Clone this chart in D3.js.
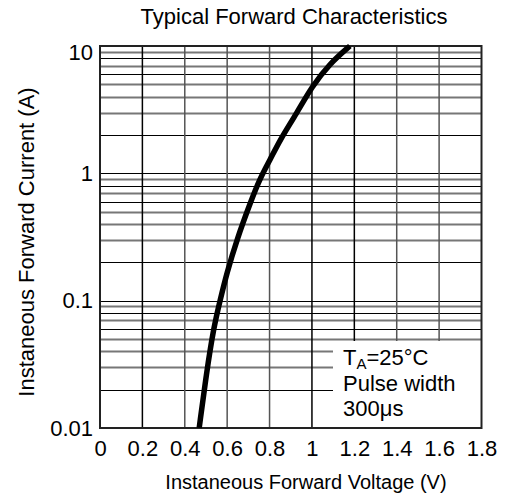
<!DOCTYPE html>
<html>
<head>
<meta charset="utf-8">
<script src="https://cdn.jsdelivr.net/npm/d3@7"></script>
<style>
  body { margin: 0; background: #fff; }
  text { font-family: "Liberation Sans", Arial, sans-serif; fill: #000; }
</style>
</head>
<body>
<div id="chart"></div>
<script>
// curve
const voltage = [0.468, 0.502, 0.537, 0.567, 0.598, 0.645, 0.708, 0.755, 0.802, 0.849, 0.928, 0.999, 1.085, 1.179];
const current = [0.01, 0.0268, 0.0624, 0.101, 0.164, 0.299, 0.581, 0.914, 1.27, 1.83, 2.96, 4.79, 7.31, 10];

const xTicks = [0, 0.2, 0.4, 0.6, 0.8, 1, 1.2, 1.4, 1.6, 1.8];
const yTicks = [0.01, 0.1, 1, 10];
const legendLines = ["Pulse width", "300μs"];

const width = 507, height = 500;
const plotL = 100, plotR = 481.5, plotT = 46, plotB = 428;

const svg = d3.select("#chart").append("svg")
    .attr("width", width)
    .attr("height", height);

const x = d3.scaleLinear().domain([0, 1.8]).range([plotL, plotR]);
const y = d3.scaleLog().domain([0.01, 10]).range([plotB, plotT]);

// minor log grid, some lines gray some black like the original
const minorColor = { 1: "#000", 2: "#000", 3: "#777", 4: "#777", 5: "#777", 6: "#000", 7: "#777", 8: "#000", 9: "#777" };
const minor = [];
yTicks.slice(0, -1).forEach(d => {
    for (let m = 2; m <= 9; m++) minor.push({ v: d * m, m: m });
});

const grid = svg.append("g");
grid.selectAll("line.h")
    .data(minor.concat(yTicks.slice(1, -1).map(v => ({ v: v, m: 1 }))))
    .enter().append("line")
    .attr("class", "h")
    .attr("x1", plotL).attr("x2", plotR)
    .attr("y1", d => Math.round(y(d.v)) + 0.5)
    .attr("y2", d => Math.round(y(d.v)) + 0.5)
    .style("stroke", d => minorColor[d.m])
    .style("stroke-width", d => minorColor[d.m] === "#000" ? 1.2 : 2);

grid.selectAll("line.v")
    .data(xTicks.slice(1, -1))
    .enter().append("line")
    .attr("class", "v")
    .attr("x1", d => x(d)).attr("x2", d => x(d))
    .attr("y1", plotT).attr("y2", plotB)
    .style("stroke", (d, i) => (i === 0 || i === 4 || i === 5) ? "#000" : "#555")
    .style("stroke-width", 1.5);

// legend box blanks out the grid
svg.append("rect")
    .attr("x", 333).attr("y", 341)
    .attr("width", plotR - 333).attr("height", plotB - 341)
    .style("fill", "#fff");

// frame
svg.append("rect")
    .attr("x", plotL).attr("y", plotT)
    .attr("width", plotR - plotL).attr("height", plotB - plotT)
    .style("fill", "none")
    .style("stroke", "#222")
    .style("stroke-width", 2);

// curve
const pts = voltage.map((v, i) => [v, current[i]]);
svg.append("path")
    .datum(pts)
    .attr("d", d3.line().x(d => x(d[0])).y(d => y(d[1])).curve(d3.curveBasis))
    .style("fill", "none")
    .style("stroke", "#000")
    .style("stroke-width", 5.5)
    .style("stroke-linecap", "butt");

// axes
const xAxis = svg.append("g")
    .attr("transform", `translate(0,${plotB})`)
    .call(d3.axisBottom(x).tickValues(xTicks).tickSize(0).tickPadding(12).tickFormat(d3.format("~g")));
const yAxis = svg.append("g")
    .attr("transform", `translate(${plotL},0)`)
    .call(d3.axisLeft(y).tickValues(yTicks).tickSize(0).tickPadding(7).tickFormat(d3.format("~g")));
[xAxis, yAxis].forEach(a => {
    a.select(".domain").remove();
    a.selectAll("text").style("font-size", "22px").style("font-family", "'Liberation Sans', Arial, sans-serif").style("fill", "#000");
});
yAxis.selectAll("text").filter(d => d === 10).attr("dy", "0.6em");

// titles
svg.append("text")
    .attr("x", 294).attr("y", 24)
    .attr("text-anchor", "middle")
    .style("font-size", "22px")
    .text("Typical Forward Characteristics");

svg.append("text")
    .attr("x", 306).attr("y", 489)
    .attr("text-anchor", "middle")
    .style("font-size", "20px")
    .text("Instaneous Forward Voltage (V)");

svg.append("text")
    .attr("transform", "translate(34,242) rotate(-90)")
    .attr("text-anchor", "middle")
    .style("font-size", "22px")
    .text("Instaneous Forward Current (A)");

// legend text
const lt = svg.append("text")
    .attr("x", 343).attr("y", 365)
    .style("font-size", "22px");
lt.append("tspan").text("T");
lt.append("tspan").attr("dy", 4).style("font-size", "15px").text("A");
lt.append("tspan").attr("dy", -4).text("=25°C");

svg.selectAll("text.leg")
    .data(legendLines)
    .enter().append("text")
    .attr("class", "leg")
    .attr("x", 343)
    .attr("y", (d, i) => 391 + i * 25)
    .style("font-size", "22px")
    .text(d => d);
</script>
</body>
</html>
